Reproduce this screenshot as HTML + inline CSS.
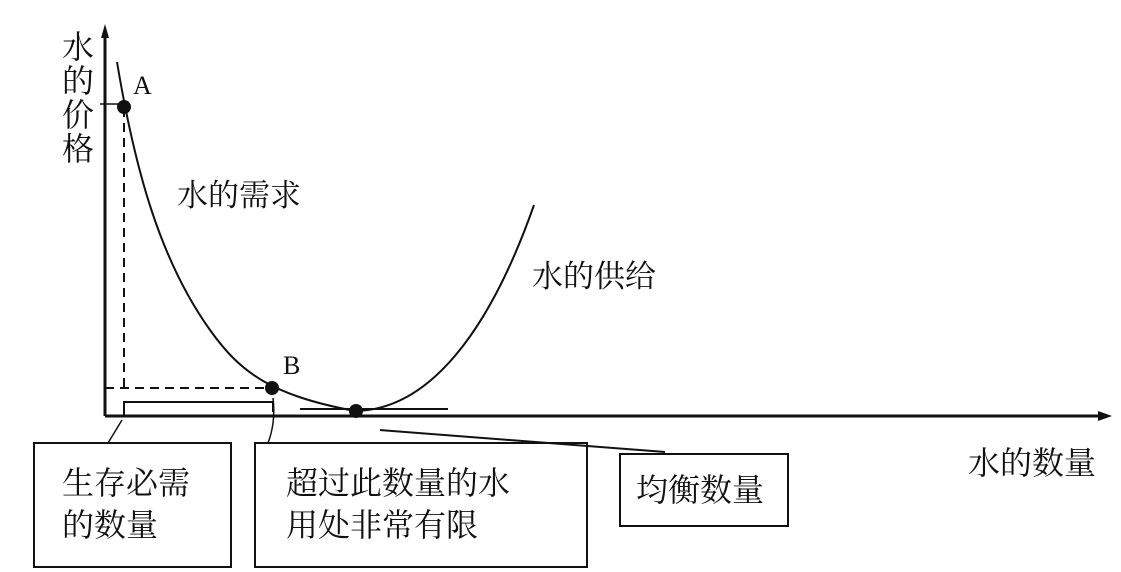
<!DOCTYPE html>
<html><head><meta charset="utf-8"><style>
body{margin:0;background:#fff;}
svg{display:block;}
text{font-family:"Liberation Serif","Noto Serif CJK SC",serif;fill:#111;}
</style></head><body>
<svg width="1121" height="572" viewBox="0 0 1121 572" xmlns="http://www.w3.org/2000/svg">
<g stroke="#111" fill="none">
<line x1="105" y1="30" x2="105" y2="416" stroke-width="3"/>
<polygon points="105,24 101,38 109,38" fill="#111" stroke="none"/>
<line x1="105" y1="416" x2="1100" y2="416" stroke-width="3"/>
<polygon points="1112,416 1098,411 1098,421" fill="#111" stroke="none"/>
<path d="M117,62 C135,170 160,260 210,330 C240,372 270,395 355,411 C430,410 490,330 534,205" stroke-width="2"/>
<line x1="100" y1="104" x2="124" y2="104" stroke-width="1.5"/>
<line x1="124" y1="108" x2="124" y2="388" stroke-width="2" stroke-dasharray="9,6"/>
<line x1="105" y1="388" x2="272" y2="388" stroke-width="2" stroke-dasharray="9,6"/>
<polyline points="124,416 124,402 273,402 273,412" stroke-width="2"/>
<path d="M273,398 C275,415 273,430 268,443" stroke-width="1.5"/>
<line x1="300" y1="409" x2="448" y2="409" stroke-width="2"/>
<line x1="122" y1="420" x2="108" y2="443" stroke-width="1.5"/>
<line x1="380" y1="430" x2="665" y2="452" stroke-width="2"/>
<rect x="34" y="443" width="197" height="124" stroke-width="2"/>
<rect x="255" y="443" width="332" height="124" stroke-width="2"/>
<rect x="620" y="454" width="168" height="72" stroke-width="2"/>
</g>
<g fill="#111">
<circle cx="124" cy="107" r="7"/>
<circle cx="272" cy="388" r="7"/>
<circle cx="356" cy="411" r="7"/>
</g>
<text x="133" y="94" font-size="26">A</text>
<text x="283" y="374" font-size="26">B</text>
<g font-size="32">
<text x="62" y="58">水</text>
<text x="62" y="92">的</text>
<text x="62" y="126">价</text>
<text x="62" y="160">格</text>
</g>
<text x="177" y="206" font-size="31">水的需求</text>
<text x="532" y="287" font-size="31">水的供给</text>
<text x="968" y="474" font-size="32">水的数量</text>
<text x="62" y="494" font-size="32">生存必需</text>
<text x="62" y="536" font-size="32">的数量</text>
<text x="286" y="494" font-size="32">超过此数量的水</text>
<text x="286" y="536" font-size="32">用处非常有限</text>
<text x="636" y="501" font-size="32">均衡数量</text>
</svg>
</body></html>
